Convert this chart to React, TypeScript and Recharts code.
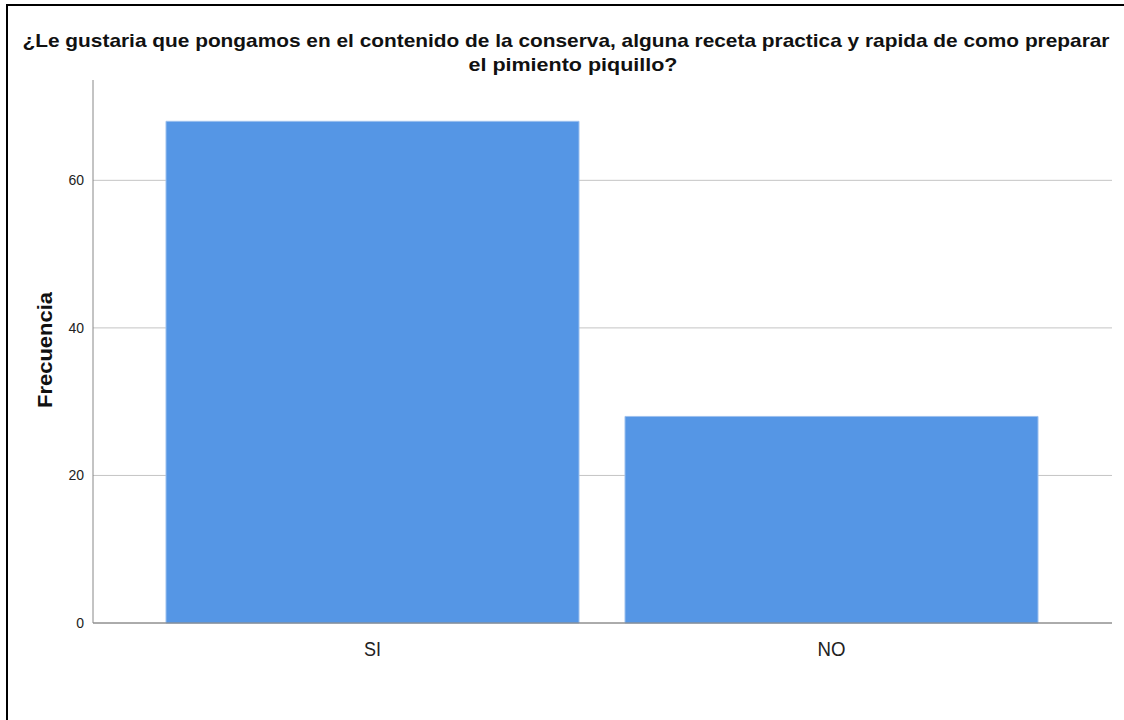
import React from 'react';
import { BarChart, Bar, XAxis, YAxis, CartesianGrid } from 'recharts';

const categories = ['SI', 'NO'];
const frecuencias = [68, 28];
const yTicks = [0, 20, 40, 60];

const titleLines = [
  '¿Le gustaria que pongamos en el contenido de la conserva, alguna receta practica y rapida de como preparar',
  'el pimiento piquillo?',
];

const data = categories.map((c, i) => ({ categoria: c, frecuencia: frecuencias[i] }));

const font = '"Liberation Sans", Arial, sans-serif';
const xLabelWidth: Record<string, number> = { SI: 17, NO: 28 };

function XTick(props: any) {
  const { x, y, payload } = props;
  return (
    <text
      x={x}
      y={y + 25}
      textAnchor="middle"
      fontFamily={font}
      fontSize={21}
      textLength={xLabelWidth[payload.value]}
      lengthAdjust="spacingAndGlyphs"
      fill="#222"
    >
      {payload.value}
    </text>
  );
}

function YTick(props: any) {
  const { x, y, payload } = props;
  return (
    <text x={x} y={y + 5} textAnchor="end" fontFamily={font} fontSize={14} fill="#222">
      {payload.value}
    </text>
  );
}

export default function App() {
  return (
    <div
      style={{
        position: 'absolute',
        left: 0,
        top: 0,
        width: 1124,
        height: 720,
        overflow: 'hidden',
        background: '#fff',
      }}
    >
      <div
        style={{
          position: 'absolute',
          left: 6,
          top: 4,
          width: 1200,
          height: 800,
          border: '2px solid #000',
        }}
      />
      <div style={{ position: 'absolute', left: 0, top: 0 }}>
        <BarChart
          width={1124}
          height={720}
          data={data}
          margin={{ top: 80, right: 12, bottom: 0, left: 33 }}
        >
          <CartesianGrid vertical={false} stroke="#c4c4c4" horizontalValues={yTicks} />
          <XAxis
            dataKey="categoria"
            padding={{ left: 50, right: 51 }}
            axisLine={{ stroke: '#777' }}
            tickLine={false}
            tick={<XTick />}
            height={97}
          />
          <YAxis
            domain={[0, 73.6]}
            ticks={yTicks}
            width={60}
            axisLine={{ stroke: '#888' }}
            tickLine={false}
            tickSize={0}
            tickMargin={9}
            tick={<YTick />}
          />
          <Bar
            dataKey="frecuencia"
            fill="#5596e5"
            stroke="#9cc0ee"
            strokeWidth={1}
            barSize={413}
            isAnimationActive={false}
          />
        </BarChart>
      </div>
      <svg
        width={1124}
        height={720}
        style={{ position: 'absolute', left: 0, top: 0, pointerEvents: 'none' }}
      >
        <text
          x={566}
          y={47}
          textAnchor="middle"
          fontFamily={font}
          fontWeight="bold"
          fontSize={19}
          textLength={1087}
          lengthAdjust="spacingAndGlyphs"
          fill="#111"
        >
          {titleLines[0]}
        </text>
        <text
          x={573}
          y={71}
          textAnchor="middle"
          fontFamily={font}
          fontWeight="bold"
          fontSize={19}
          textLength={209}
          lengthAdjust="spacingAndGlyphs"
          fill="#111"
        >
          {titleLines[1]}
        </text>
        <text
          x={52}
          y={350}
          transform="rotate(-90 52 350)"
          textAnchor="middle"
          fontFamily={font}
          fontWeight="bold"
          fontSize={20}
          textLength={116}
          lengthAdjust="spacingAndGlyphs"
          fill="#111"
        >
          Frecuencia
        </text>
      </svg>
    </div>
  );
}
